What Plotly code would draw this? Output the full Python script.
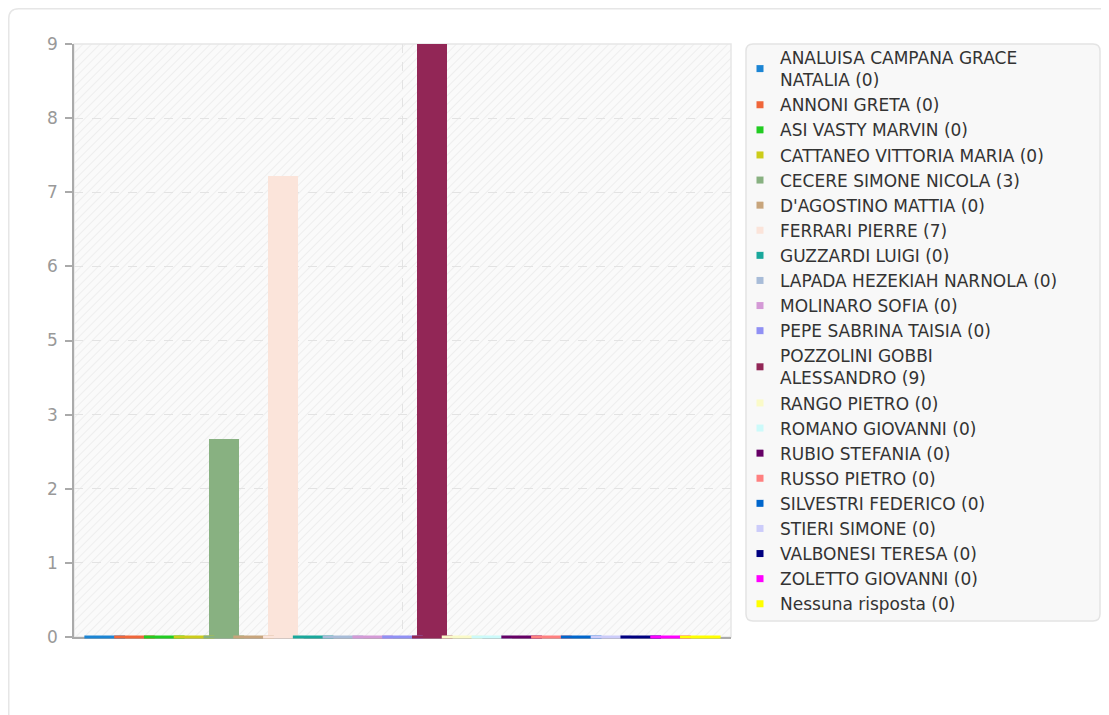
import base64
import plotly.graph_objects as go

# ---------------- data ----------------
names = [
    "ANALUISA CAMPANA GRACE NATALIA", "ANNONI GRETA", "ASI VASTY MARVIN",
    "CATTANEO VITTORIA MARIA", "CECERE SIMONE NICOLA", "D'AGOSTINO MATTIA",
    "FERRARI PIERRE", "GUZZARDI LUIGI", "LAPADA HEZEKIAH NARNOLA",
    "MOLINARO SOFIA", "PEPE SABRINA TAISIA", "POZZOLINI GOBBI ALESSANDRO",
    "RANGO PIETRO", "ROMANO GIOVANNI", "RUBIO STEFANIA", "RUSSO PIETRO",
    "SILVESTRI FEDERICO", "STIERI SIMONE", "VALBONESI TERESA",
    "ZOLETTO GIOVANNI", "Nessuna risposta",
]
values = [0, 0, 0, 0, 3, 0, 7, 0, 0, 0, 0, 9, 0, 0, 0, 0, 0, 0, 0, 0, 0]
legend_names = [
    "ANALUISA CAMPANA GRACE<br>NATALIA", "ANNONI GRETA", "ASI VASTY MARVIN",
    "CATTANEO VITTORIA MARIA", "CECERE SIMONE NICOLA", "D'AGOSTINO MATTIA",
    "FERRARI PIERRE", "GUZZARDI LUIGI", "LAPADA HEZEKIAH NARNOLA",
    "MOLINARO SOFIA", "PEPE SABRINA TAISIA", "POZZOLINI GOBBI<br>ALESSANDRO",
    "RANGO PIETRO", "ROMANO GIOVANNI", "RUBIO STEFANIA", "RUSSO PIETRO",
    "SILVESTRI FEDERICO", "STIERI SIMONE", "VALBONESI TERESA",
    "ZOLETTO GIOVANNI", "Nessuna risposta",
]
colors = [
    "#1c85d4", "#f0663a", "#22cc22", "#cccc1a", "#88b181", "#c8a57c",
    "#fbe4da", "#1aa89c", "#a8bcd8", "#d49ad6", "#9090f4", "#922656",
    "#fafac8", "#ccfafa", "#660066", "#ff8080", "#0066cc", "#ccccfa",
    "#000080", "#ff00ff", "#ffff00",
]
y_max = 9
y_tick_labels = ["0", "1", "2", "3", "5", "6", "7", "8", "9"]

# ---------------- layout geometry ----------------
OFF = 8  # page body margin
W, H = 1109, 715
ML, MT = 74 - OFF, 44 - OFF
PW, PH = 657, 593
MR = W - ML - PW
MB = H - MT - PH


def px(x):  # screen x -> paper
    return (x - OFF - ML) / PW


def py(y):  # screen y -> paper
    return (MT + PH - (y - OFF)) / PH


def rounded_rect(x0, y0, x1, y1, r):
    rx, ry = r / PW, r / PH
    X0, X1, Y0, Y1 = px(x0), px(x1), py(y0), py(y1)  # Y0 top, Y1 bottom
    return (f"M{X0+rx},{Y0} L{X1-rx},{Y0} Q{X1},{Y0} {X1},{Y0-ry} "
            f"L{X1},{Y1+ry} Q{X1},{Y1} {X1-rx},{Y1} L{X0+rx},{Y1} "
            f"Q{X0},{Y1} {X0},{Y1+ry} L{X0},{Y0-ry} Q{X0},{Y0} {X0+rx},{Y0} Z")


tick_step = y_max / (len(y_tick_labels) - 1)
tick_vals = [i * tick_step for i in range(len(y_tick_labels))]

fig = go.Figure()

fig.add_trace(go.Bar(
    x=names, y=values, marker=dict(color=colors, line=dict(width=0)),
    width=1, showlegend=False, hoverinfo="x+y",
))
# baseline strokes for each series
fig.add_trace(go.Scatter(
    x=names, y=[0] * len(names), mode="markers",
    marker=dict(symbol="line-ew", size=29, line=dict(color=colors, width=3)),
    cliponaxis=False, showlegend=False, hoverinfo="skip",
))
# legend entries
for nm, v, c in zip(legend_names, values, colors):
    fig.add_trace(go.Scatter(
        x=[None], y=[None], mode="markers", name=f"{nm} ({v})",
        marker=dict(symbol="square", size=7, color=c),
    ))

svg = (
    f"<svg xmlns='http://www.w3.org/2000/svg' width='{PW}' height='{PH}'>"
    "<defs><pattern id='p' width='6' height='6' patternUnits='userSpaceOnUse' "
    "patternTransform='rotate(45)'><rect width='6' height='6' fill='#fafafa'/>"
    "<line x1='0' y1='0' x2='0' y2='6' stroke='#eeeeee' stroke-width='2'/>"
    "</pattern></defs><rect width='100%' height='100%' fill='url(#p)'/></svg>"
)
img_src = "data:image/svg+xml;base64," + base64.b64encode(svg.encode()).decode()

fig.update_layout(
    width=W, height=H,
    margin=dict(l=ML, r=MR, t=MT, b=MB, pad=0),
    paper_bgcolor="white",
    plot_bgcolor="rgba(0,0,0,0)",
    bargap=0,
    font=dict(family="DejaVu Sans", color="#333333"),
    images=[dict(source=img_src, xref="paper", yref="paper", x=0, y=1,
                 sizex=1, sizey=1, xanchor="left", yanchor="top",
                 sizing="stretch", layer="below")],
    xaxis=dict(
        type="category", range=[-1.03, len(names) - 1 + 1.03],
        tickvals=[names[len(names) // 2]], showticklabels=False, ticks="",
        showgrid=True, gridcolor="#e3e3e3", griddash="dash", gridwidth=1,
        showline=True, linecolor="#aaaaaa", linewidth=1.5,
        zeroline=False, layer="below traces", fixedrange=True,
    ),
    yaxis=dict(
        range=[0, y_max], tickvals=tick_vals, ticktext=y_tick_labels,
        ticks="outside", ticklen=7, tickcolor="#aaaaaa", tickwidth=1.5,
        ticklabelstandoff=4,
        tickfont=dict(size=17, color="#999999", family="DejaVu Sans"),
        showline=True, linecolor="#aaaaaa", linewidth=1.5,
        showgrid=True, gridcolor="#e3e3e3", griddash="dash", gridwidth=1,
        zeroline=False, layer="below traces", fixedrange=True,
    ),
    legend=dict(
        x=px(740), y=py(40), xanchor="left", yanchor="top",
        bgcolor="rgba(0,0,0,0)", borderwidth=0, maxheight=700,
        font=dict(size=17, color="#333333", family="DejaVu Sans"),
        itemclick=False, itemdoubleclick=False,
    ),
    shapes=[
        # outer container
        dict(type="path", xref="paper", yref="paper", layer="below",
             path=rounded_rect(8.75, 8.75, 1130, 740, 10),
             line=dict(color="#e6e6e6", width=1.5), fillcolor="rgba(0,0,0,0)"),
        # legend box
        dict(type="path", xref="paper", yref="paper", layer="below",
             path=rounded_rect(746, 44, 1100, 621, 7),
             line=dict(color="#e4e4e4", width=1.5), fillcolor="#f8f8f8"),
        # plot frame
        dict(type="rect", xref="paper", yref="paper", layer="below",
             x0=0, x1=1, y0=0, y1=1, line=dict(color="#e6e6e6", width=1.5)),
    ],
)

fig.write_html("out.html")
